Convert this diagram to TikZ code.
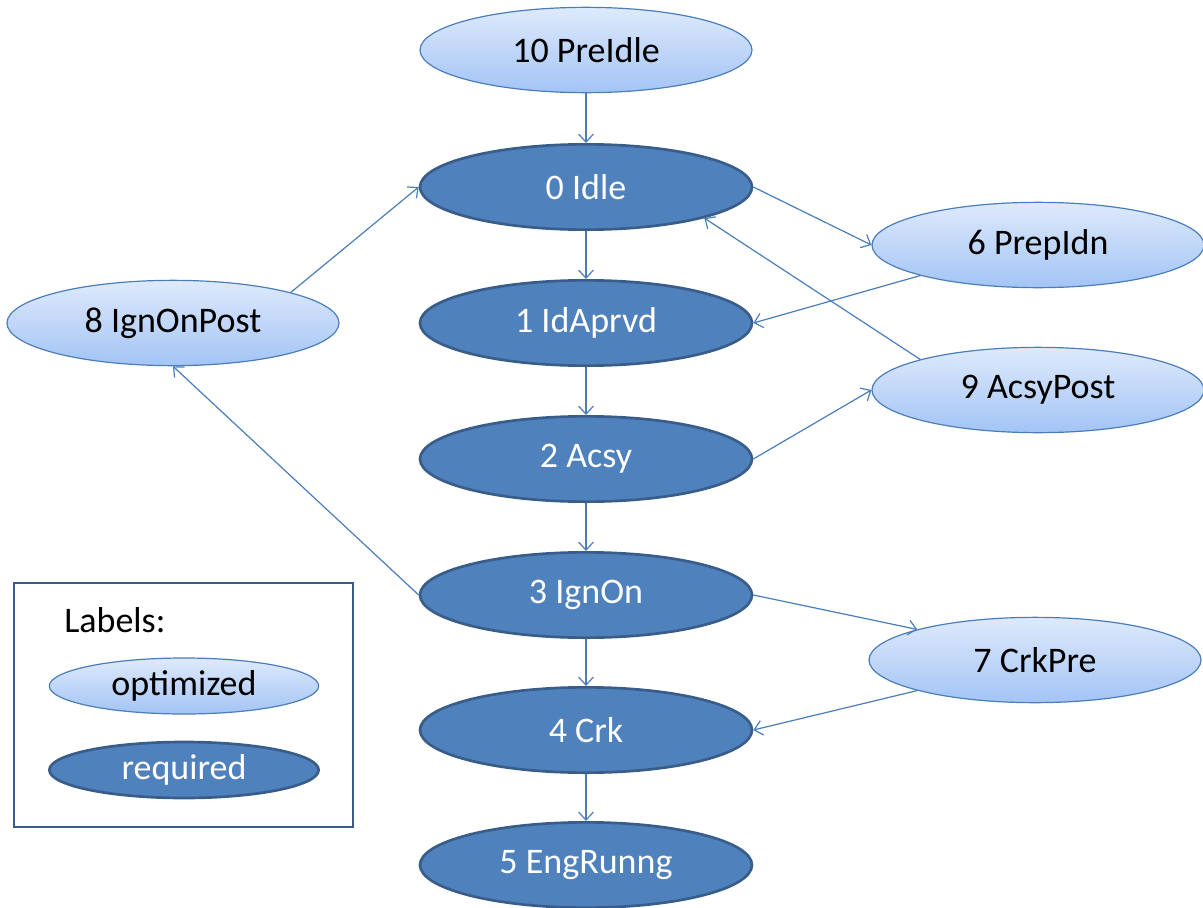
\documentclass[tikz,border=0pt]{standalone}
\usepackage{fontspec}
\setmainfont{Carlito}
\usetikzlibrary{shapes.geometric,arrows.meta}

\definecolor{reqfill}{RGB}{79,129,189}
\definecolor{reqdraw}{RGB}{56,93,138}
\definecolor{opttop}{RGB}{222,234,252}
\definecolor{optbot}{RGB}{163,196,245}
\definecolor{optdraw}{RGB}{74,126,187}
\definecolor{edgecol}{RGB}{74,126,187}

\begin{document}
\begin{tikzpicture}[x=0.75pt,y=0.75pt,yscale=-1,xscale=1,
  state/.style={ellipse,inner sep=0pt,minimum width=249pt,minimum height=64pt,font=\fontsize{27}{32}\selectfont},
  reqstate/.style={state,fill=reqfill,draw=reqdraw,line width=2pt,text=white},
  optstate/.style={state,top color=opttop,bottom color=optbot,draw=optdraw,line width=0.9pt,text=black},
  legstate/.style={minimum width=202pt,minimum height=42pt},
  trans/.style={draw=edgecol,line width=0.9pt,-{Straight Barb[length=6pt,width=11pt]}}]
\useasboundingbox (0,0) rectangle (1203,907);

%States, middle column
\node [optstate] (preidle) at (586,50) {10 PreIdle};
\node [reqstate] (idle) at (586,187) {0 Idle};
\node [reqstate] (idaprvd) at (586,323) {1 IdAprvd};
\node [reqstate] (acsy) at (586,459) {2 Acsy};
\node [reqstate] (ignon) at (586,595) {3 IgnOn};
\node [reqstate] (crk) at (586,730) {4 Crk};
\node [reqstate] (engrunng) at (586,865) {5 EngRunng};
%States, sides
\node [optstate] (prepidn) at (1038,245) {6 PrepIdn};
\node [optstate] (acsypost) at (1038,390) {9 AcsyPost};
\node [optstate] (crkpre) at (1035,660) {7 CrkPre};
\node [optstate] (ignonpost) at (173,323) {8 IgnOnPost};

%Legend
\draw [draw=reqdraw,line width=2pt] (14,583) rectangle (353,827);
\node [anchor=west,inner sep=0pt,font=\fontsize{27}{32}\selectfont] (leglabel) at (64,620) {Labels:};
\node [optstate,legstate] (legopt) at (184,686) {optimized};
\node [reqstate,legstate] (legreq) at (184,770) {required};

%Transitions
\draw [trans] (preidle.south) -- (idle.north);
\draw [trans] (idle.south) -- (idaprvd.north);
\draw [trans] (idaprvd.south) -- (acsy.north);
\draw [trans] (acsy.south) -- (ignon.north);
\draw [trans] (ignon.south) -- (crk.north);
\draw [trans] (crk.south) -- (engrunng.north);
\draw [trans] (idle.east) -- (prepidn.west);
\draw [trans] (prepidn.south west) -- (idaprvd.east);
\draw [trans] (acsypost.north west) -- (idle.south east);
\draw [trans] (acsy.east) -- (acsypost.west);
\draw [trans] (ignonpost.north east) -- (idle.west);
\draw [trans] (ignon.west) -- (ignonpost.south);
\draw [trans] (ignon.east) -- (crkpre.north west);
\draw [trans] (crkpre.south west) -- (crk.east);
\end{tikzpicture}
\end{document}
